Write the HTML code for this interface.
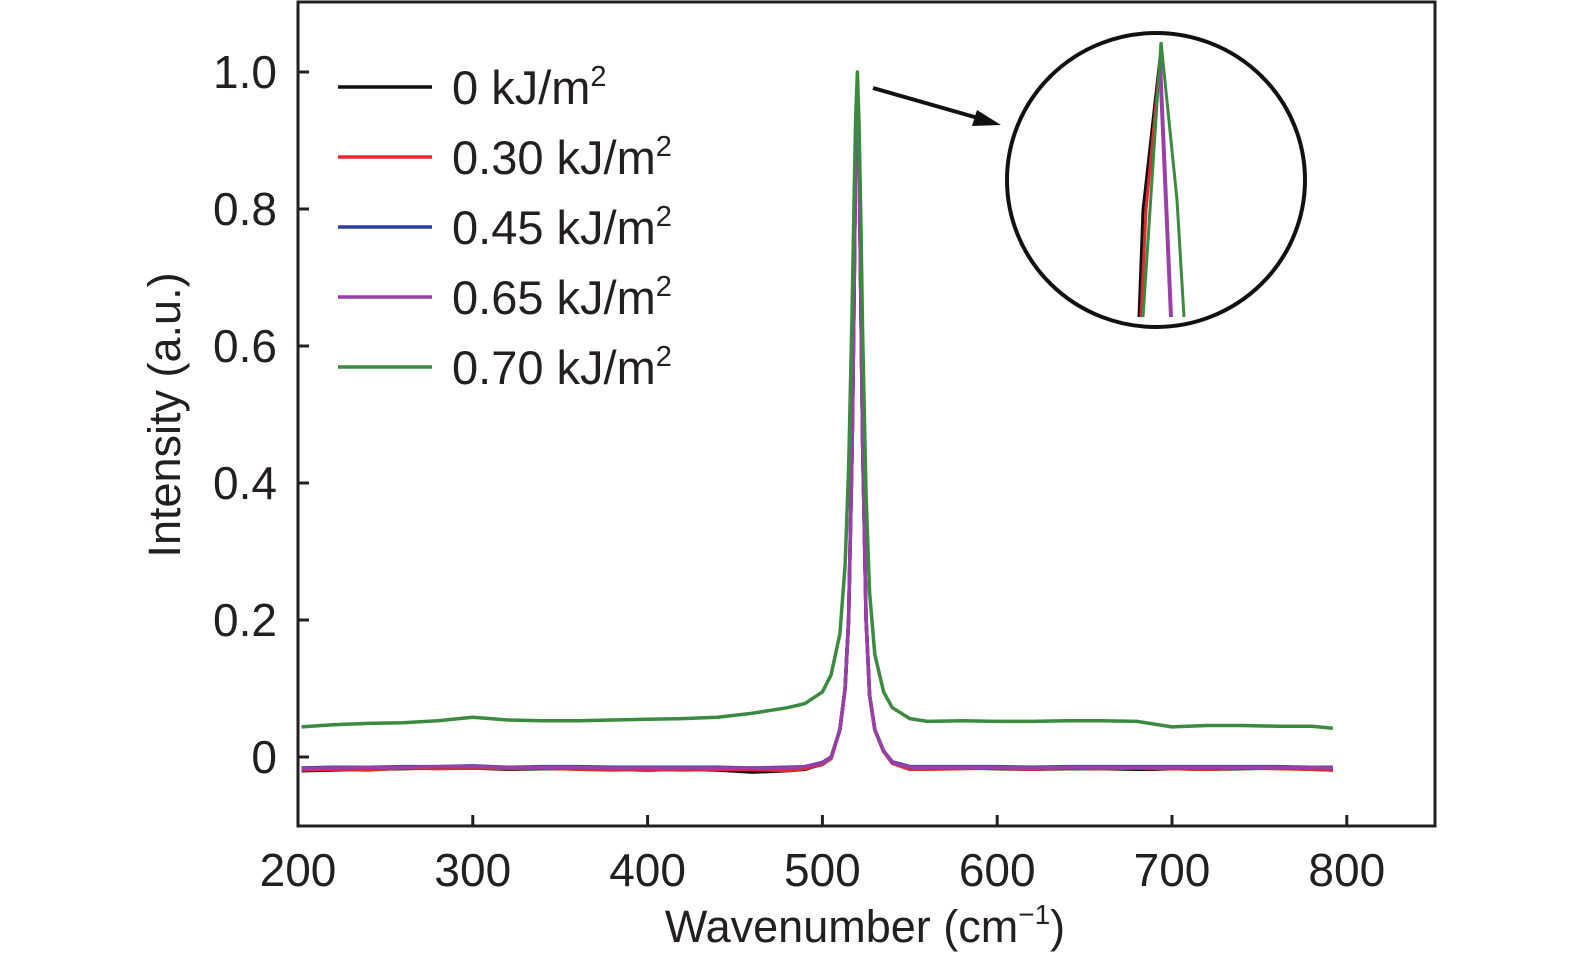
<!DOCTYPE html>
<html><head><meta charset="utf-8"><style>
body{margin:0;background:#fff;}
svg text{font-family:"Liberation Sans",sans-serif;fill:#231f20;}
</style></head><body>
<svg id="chart" width="1575" height="965" viewBox="0 0 1575 965" xmlns="http://www.w3.org/2000/svg">
<g id="plot"></g>
<rect x="298" y="2" width="1137" height="824" fill="none" stroke="#231f20" stroke-width="3"/>
<g id="ticks"></g>
<text x="865" y="942" font-size="45" text-anchor="middle">Wavenumber (cm<tspan dy="-18" font-size="28">−1</tspan><tspan dy="18">)</tspan></text>
<text transform="translate(180,415) rotate(-90)" font-size="45" text-anchor="middle">Intensity (a.u.)</text>
<g id="legend"></g>
<g>
<ellipse cx="1156" cy="180" rx="149" ry="147" fill="none" stroke="#111" stroke-width="4"/>
<polyline points="1139,317 1143,210 1160,58" fill="none" stroke="#111" stroke-width="3"/>
<polyline points="1141,317 1146,210 1160,62" fill="none" stroke="#e0282e" stroke-width="3"/>
<polyline points="1160,62 1171,317" fill="none" stroke="#9a3fa8" stroke-width="4"/>
<polyline points="1143,317 1161,42 1177,200 1184,317" fill="none" stroke="#3a8a3f" stroke-width="3"/>
<line x1="873" y1="88" x2="985" y2="120" stroke="#111" stroke-width="4"/>
<polygon points="1001,125 977,110 972,126" fill="#111"/>
</g>
</svg>
<script>
const NS="http://www.w3.org/2000/svg";
const wn=[202,220,240,260,280,300,320,340,360,380,400,420,440,460,480,490,500,505,510,513,515,517,518,519,520,521,522,523,525,527,530,535,540,550,560,580,600,620,640,660,680,690,700,720,740,760,780,792];
const sGreen=[0.044,0.047,0.049,0.050,0.053,0.058,0.054,0.053,0.053,0.054,0.055,0.056,0.058,0.064,0.072,0.078,0.095,0.12,0.18,0.28,0.42,0.65,0.8,0.93,1.0,0.92,0.78,0.62,0.38,0.24,0.15,0.095,0.072,0.056,0.052,0.053,0.052,0.052,0.053,0.053,0.052,0.048,0.044,0.046,0.046,0.045,0.045,0.042];
const sBlack=[-0.02,-0.019,-0.018,-0.017,-0.016,-0.016,-0.018,-0.017,-0.017,-0.018,-0.019,-0.018,-0.019,-0.022,-0.02,-0.018,-0.01,-0.002,0.04,0.1,0.2,0.45,0.65,0.88,0.98,0.88,0.66,0.46,0.2,0.09,0.04,0.008,-0.008,-0.016,-0.017,-0.016,-0.017,-0.018,-0.017,-0.017,-0.018,-0.018,-0.017,-0.018,-0.017,-0.016,-0.018,-0.019];
const sRed=[-0.019,-0.018,-0.019,-0.016,-0.017,-0.016,-0.017,-0.016,-0.018,-0.019,-0.018,-0.019,-0.018,-0.018,-0.02,-0.017,-0.011,-0.002,0.04,0.1,0.2,0.45,0.65,0.88,0.98,0.88,0.66,0.46,0.2,0.09,0.04,0.008,-0.009,-0.018,-0.018,-0.017,-0.016,-0.018,-0.016,-0.017,-0.016,-0.017,-0.017,-0.018,-0.016,-0.017,-0.018,-0.019];
const sBlue=[-0.016,-0.015,-0.015,-0.014,-0.014,-0.013,-0.015,-0.014,-0.014,-0.015,-0.015,-0.015,-0.015,-0.016,-0.015,-0.014,-0.008,0.0,0.04,0.1,0.2,0.45,0.65,0.88,0.98,0.88,0.66,0.46,0.2,0.09,0.04,0.009,-0.007,-0.014,-0.014,-0.014,-0.014,-0.015,-0.014,-0.014,-0.014,-0.014,-0.014,-0.014,-0.014,-0.014,-0.015,-0.015];
const sPurple=[-0.017,-0.016,-0.015,-0.015,-0.014,-0.014,-0.015,-0.015,-0.015,-0.016,-0.016,-0.016,-0.016,-0.016,-0.016,-0.014,-0.009,-0.001,0.04,0.1,0.2,0.45,0.65,0.88,0.98,0.88,0.66,0.46,0.2,0.09,0.04,0.009,-0.008,-0.015,-0.015,-0.015,-0.015,-0.016,-0.015,-0.015,-0.015,-0.015,-0.015,-0.015,-0.015,-0.015,-0.015,-0.016];
const xTicks=[200,300,400,500,600,700,800];
const yTicks=[0,0.2,0.4,0.6,0.8,1.0];
const yTickLabels=["0","0.2","0.4","0.6","0.8","1.0"];
const legendLabels=["0 kJ/m","0.30 kJ/m","0.45 kJ/m","0.65 kJ/m","0.70 kJ/m"];
const colors=["#111111","#e0282e","#2d3f9a","#9a3fa8","#3a8a3f"];
const sx=v=>298+(v-200)*1.748;
const sy=v=>757-v*685;
const plot=document.getElementById('plot');
const series=[sBlack,sRed,sBlue,sPurple,sGreen];
const names=["series-0","series-030","series-045","series-065","series-070"];
series.forEach((s,i)=>{
  const p=document.createElementNS(NS,'polyline');
  p.setAttribute('points',wn.map((w,j)=>sx(w).toFixed(1)+','+sy(s[j]).toFixed(1)).join(' '));
  p.setAttribute('fill','none');p.setAttribute('stroke',colors[i]);p.setAttribute('stroke-width','3.5');p.setAttribute('stroke-linejoin','round');
  
  
  plot.appendChild(p);
});
const tk=document.getElementById('ticks');
xTicks.forEach(v=>{
  const l=document.createElementNS(NS,'line');
  l.setAttribute('x1',sx(v));l.setAttribute('x2',sx(v));l.setAttribute('y1',826);l.setAttribute('y2',815);
  l.setAttribute('stroke','#231f20');l.setAttribute('stroke-width','3');
  
  
  tk.appendChild(l);
  const t=document.createElementNS(NS,'text');
  t.setAttribute('x',sx(v));t.setAttribute('y',886);t.setAttribute('font-size','46');t.setAttribute('text-anchor','middle');
  t.textContent=v;
  
  
  tk.appendChild(t);
});
yTicks.forEach((v,i)=>{
  const l=document.createElementNS(NS,'line');
  l.setAttribute('x1',298);l.setAttribute('x2',309);l.setAttribute('y1',sy(v));l.setAttribute('y2',sy(v));
  l.setAttribute('stroke','#231f20');l.setAttribute('stroke-width','3');
  
  
  tk.appendChild(l);
  const t=document.createElementNS(NS,'text');
  t.setAttribute('x',277);t.setAttribute('y',sy(v)+16);t.setAttribute('font-size','46');t.setAttribute('text-anchor','end');
  t.textContent=yTickLabels[i];
  
  
  tk.appendChild(t);
});
const lg=document.getElementById('legend');
legendLabels.forEach((lab,i)=>{
  const y=87+i*70;
  const l=document.createElementNS(NS,'line');
  l.setAttribute('x1',338);l.setAttribute('x2',432);l.setAttribute('y1',y);l.setAttribute('y2',y);
  l.setAttribute('stroke',colors[i]);l.setAttribute('stroke-width','3.5');
  
  
  lg.appendChild(l);
  const t=document.createElementNS(NS,'text');
  t.setAttribute('x',452);t.setAttribute('y',y+17);t.setAttribute('font-size','47');
  t.textContent=lab;
  const sup=document.createElementNS(NS,'tspan');
  sup.setAttribute('dy','-18');sup.setAttribute('font-size','29');sup.textContent='2';
  t.appendChild(sup);
  
  
  lg.appendChild(t);
});
</script>
</body></html>
